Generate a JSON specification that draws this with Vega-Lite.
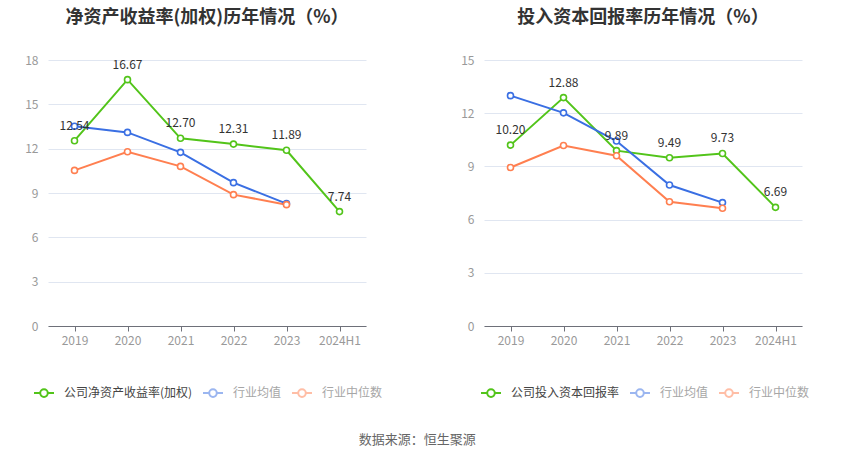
{
  "$schema": "https://vega.github.io/schema/vega-lite/v6.json",
  "padding": {"left": 24, "top": 9, "right": 0, "bottom": 0},
  "background": "white",
  "datasets": {
    "roe": [
      {"year": "2019", "series": "公司净资产收益率(加权)", "value": 12.54},
      {"year": "2020", "series": "公司净资产收益率(加权)", "value": 16.67},
      {"year": "2021", "series": "公司净资产收益率(加权)", "value": 12.70},
      {"year": "2022", "series": "公司净资产收益率(加权)", "value": 12.31},
      {"year": "2023", "series": "公司净资产收益率(加权)", "value": 11.89},
      {"year": "2024H1", "series": "公司净资产收益率(加权)", "value": 7.74},
      {"year": "2019", "series": "行业均值", "value": 13.52},
      {"year": "2020", "series": "行业均值", "value": 13.10},
      {"year": "2021", "series": "行业均值", "value": 11.75},
      {"year": "2022", "series": "行业均值", "value": 9.70},
      {"year": "2023", "series": "行业均值", "value": 8.28},
      {"year": "2019", "series": "行业中位数", "value": 10.53},
      {"year": "2020", "series": "行业中位数", "value": 11.79},
      {"year": "2021", "series": "行业中位数", "value": 10.80},
      {"year": "2022", "series": "行业中位数", "value": 8.89},
      {"year": "2023", "series": "行业中位数", "value": 8.21}
    ],
    "roic": [
      {"year": "2019", "series": "公司投入资本回报率", "value": 10.20},
      {"year": "2020", "series": "公司投入资本回报率", "value": 12.88},
      {"year": "2021", "series": "公司投入资本回报率", "value": 9.89},
      {"year": "2022", "series": "公司投入资本回报率", "value": 9.49},
      {"year": "2023", "series": "公司投入资本回报率", "value": 9.73},
      {"year": "2024H1", "series": "公司投入资本回报率", "value": 6.69},
      {"year": "2019", "series": "行业均值", "value": 12.99},
      {"year": "2020", "series": "行业均值", "value": 12.02},
      {"year": "2021", "series": "行业均值", "value": 10.43},
      {"year": "2022", "series": "行业均值", "value": 7.95},
      {"year": "2023", "series": "行业均值", "value": 6.96},
      {"year": "2019", "series": "行业中位数", "value": 8.94},
      {"year": "2020", "series": "行业中位数", "value": 10.18},
      {"year": "2021", "series": "行业中位数", "value": 9.60},
      {"year": "2022", "series": "行业中位数", "value": 7.01},
      {"year": "2023", "series": "行业中位数", "value": 6.64}
    ]
  },
  "title": {
    "text": "数据来源：恒生聚源",
    "orient": "bottom",
    "anchor": "middle",
    "fontSize": 13,
    "fontWeight": "normal",
    "color": "#666",
    "offset": 33
  },
  "hconcat": [
    {
      "width": 318,
      "height": 266,
      "data": {"name": "roe"},
      "title": {"text": "净资产收益率(加权)历年情况（%）"},
      "encoding": {
        "x": {
          "field": "year",
          "type": "ordinal",
          "sort": null,
          "scale": {"type": "point", "padding": 0.5},
          "axis": {"title": null}
        },
        "y": {
          "field": "value",
          "type": "quantitative",
          "scale": {"domain": [0, 18]},
          "axis": {"title": null, "values": [0, 3, 6, 9, 12, 15, 18]}
        },
        "color": {
          "field": "series",
          "type": "nominal",
          "scale": {
            "domain": ["公司净资产收益率(加权)", "行业均值", "行业中位数"],
            "range": ["#52c41a", "#3a6fe3", "#ff7f50"]
          },
          "legend": {
            "legendX": -15,
            "legendY": 322,
            "encode": {
              "labels": {"update": {"fill": [{"test": "datum.index === 0", "value": "#444"}, {"value": "#a6a6a6"}]}},
              "symbols": {"update": {"opacity": [{"test": "datum.index === 0", "value": 1}, {"value": 0.5}]}}
            }
          }
        }
      },
      "layer": [
        {"mark": {"type": "line", "strokeWidth": 2}},
        {"mark": {"type": "point", "filled": false, "fill": "white", "size": 36, "strokeWidth": 1.6, "opacity": 1}},
        {
          "transform": [{"filter": "indexof(datum.series, '公司') === 0"}],
          "mark": {"type": "text", "dy": -15, "fontSize": 12},
          "encoding": {
            "text": {"field": "value", "type": "quantitative", "format": ".2f"},
            "color": {"value": "#333"}
          }
        }
      ]
    },
    {
      "width": 318,
      "height": 266,
      "data": {"name": "roic"},
      "title": {"text": "投入资本回报率历年情况（%）"},
      "encoding": {
        "x": {
          "field": "year",
          "type": "ordinal",
          "sort": null,
          "scale": {"type": "point", "padding": 0.5},
          "axis": {"title": null}
        },
        "y": {
          "field": "value",
          "type": "quantitative",
          "scale": {"domain": [0, 15]},
          "axis": {"title": null, "values": [0, 3, 6, 9, 12, 15]}
        },
        "color": {
          "field": "series",
          "type": "nominal",
          "scale": {
            "domain": ["公司投入资本回报率", "行业均值", "行业中位数"],
            "range": ["#52c41a", "#3a6fe3", "#ff7f50"]
          },
          "legend": {
            "legendX": -4,
            "legendY": 322,
            "encode": {
              "labels": {"update": {"fill": [{"test": "datum.index === 0", "value": "#444"}, {"value": "#a6a6a6"}]}},
              "symbols": {"update": {"opacity": [{"test": "datum.index === 0", "value": 1}, {"value": 0.5}]}}
            }
          }
        }
      },
      "layer": [
        {"mark": {"type": "line", "strokeWidth": 2}},
        {"mark": {"type": "point", "filled": false, "fill": "white", "size": 36, "strokeWidth": 1.6, "opacity": 1}},
        {
          "transform": [{"filter": "indexof(datum.series, '公司') === 0"}],
          "mark": {"type": "text", "dy": -15, "fontSize": 12},
          "encoding": {
            "text": {"field": "value", "type": "quantitative", "format": ".2f"},
            "color": {"value": "#333"}
          }
        }
      ]
    }
  ],
  "spacing": 118,
  "bounds": "flush",
  "resolve": {"scale": {"color": "independent", "y": "independent", "x": "independent"}},
  "config": {
    "font": "Noto Sans CJK SC",
    "view": {"stroke": null},
    "title": {"fontSize": 18, "fontWeight": "bold", "color": "#333", "offset": 27, "anchor": "middle"},
    "axisX": {
      "labelAngle": 0,
      "labelColor": "#999",
      "labelFontSize": 12,
      "labelPadding": 4,
      "domainColor": "#6e7079",
      "tickColor": "#6e7079",
      "tickSize": 5,
      "grid": false
    },
    "axisY": {
      "labelColor": "#999",
      "labelFontSize": 12,
      "labelPadding": 10,
      "domain": false,
      "ticks": false,
      "gridColor": "#e0e6f1",
      "gridWidth": 1
    },
    "legend": {
      "orient": "none",
      "direction": "horizontal",
      "title": null,
      "symbolType": "M-1,0L-0.38,0M0.38,0L1,0M0.38,0A0.38,0.38,0,1,1,-0.38,0A0.38,0.38,0,1,1,0.38,0Z",
      "symbolSize": 400,
      "symbolStrokeWidth": 2,
      "symbolFillColor": "white",
      "labelFontSize": 12,
      "labelColor": "#999",
      "labelOffset": 9,
      "columnPadding": 6
    }
  }
}
